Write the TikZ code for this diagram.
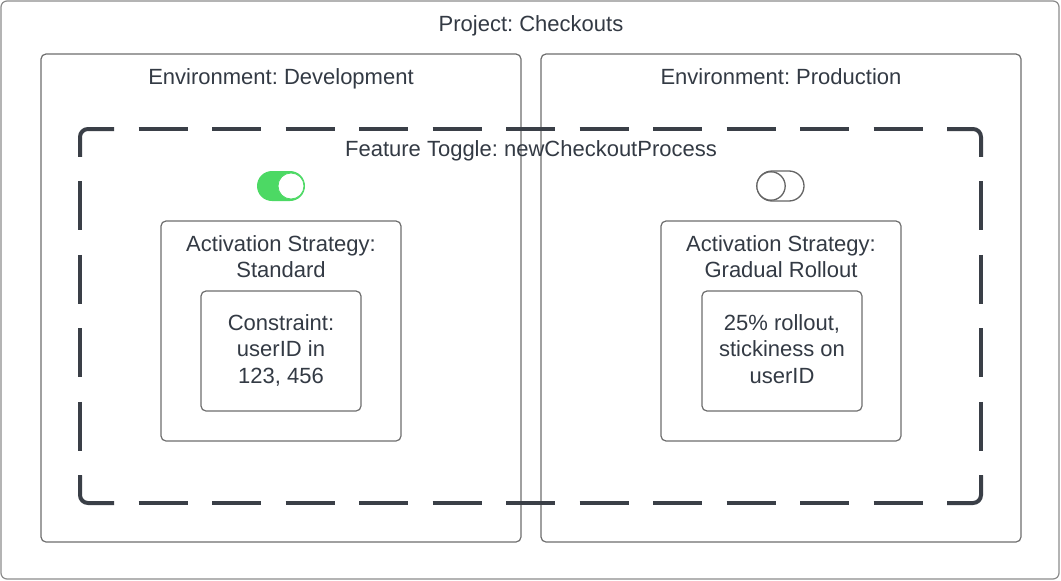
\documentclass[tikz,border=0pt]{standalone}
\usepackage{fontspec}
\setmainfont{Liberation Sans}
\frenchspacing
\definecolor{txt}{RGB}{51,58,68}
\definecolor{dashc}{RGB}{58,63,71}
\definecolor{boxc}{RGB}{110,110,110}
\definecolor{framec}{RGB}{140,140,140}
\definecolor{tgreen}{RGB}{76,217,100}
\definecolor{offc}{RGB}{100,100,100}
\begin{document}
\begin{tikzpicture}[x=1pt,y=-1pt,
  lbl/.style={text=txt,font=\fontsize{22}{26.7}\selectfont\frenchspacing,anchor=base,inner sep=0pt,align=center},
  frame/.style={draw=framec,line width=1.2pt,rounded corners=6pt},
  box/.style={draw=boxc,line width=1.2pt,rounded corners=5pt},
  dashside/.style={draw=dashc,line width=4pt,dash pattern=on 49pt off 24.5pt},
  dashcorner/.style={draw=dashc,line width=4pt,rounded corners=8pt}]
\useasboundingbox (0,0) rectangle (1061,581);
\fill[white] (0,0) rectangle (1061,581);
% outer frame
\draw[frame] (1,1) rectangle (1059,579);
\node[lbl] (project) at (531,31) {Project: Checkouts};
% environments
\draw[box] (41,54) rectangle (521,542);
\draw[box] (541,54) rectangle (1021,542);
\node[lbl] (envdev) at (281,84) {Environment: Development};
\node[lbl] (envprod) at (781,84) {Environment: Production};
% dashed feature toggle container
\draw[dashside,dash phase=23pt] (88,129) -- (973,129);
\draw[dashside,dash phase=23pt] (88,503) -- (973,503);
\draw[dashside,dash phase=29.25pt] (80,137) -- (80,495);
\draw[dashside,dash phase=29.25pt] (981,137) -- (981,495);
\draw[dashcorner] (80,156.75) -- (80,129) -- (114,129);
\draw[dashcorner] (947,129) -- (981,129) -- (981,156.75);
\draw[dashcorner] (80,475.25) -- (80,503) -- (114,503);
\draw[dashcorner] (947,503) -- (981,503) -- (981,475.25);
\node[lbl] (toggle) at (531,156.7) {Feature Toggle: newCheckoutProcess};
% toggles
\fill[tgreen,rounded corners=15pt] (257,171) rectangle (305,201);
\filldraw[fill=white,draw=tgreen,line width=0.8pt] (291,186) circle (13);
\draw[offc,fill=white,line width=1.3pt,rounded corners=15pt] (757,171) rectangle (804,201);
\draw[offc,fill=white,line width=1.3pt] (771,186) circle (14.2);
% strategies
\draw[box] (161,221) rectangle (401,441);
\draw[box] (661,221) rectangle (901,441);
\node[lbl] (stratdev) at (281,277.7) {Activation Strategy:\\Standard};
\node[lbl] (stratprod) at (781,277.7) {Activation Strategy:\\Gradual Rollout};
% constraints
\draw[box] (201,291) rectangle (361,411);
\draw[box] (702,291) rectangle (862,411);
\node[lbl] (consdev) at (281,383.4) {Constraint:\\userID in\\123, 456};
\node[lbl] (consprod) at (782,383.4) {25\% rollout,\\stickiness on\\userID};
\end{tikzpicture}
\end{document}
